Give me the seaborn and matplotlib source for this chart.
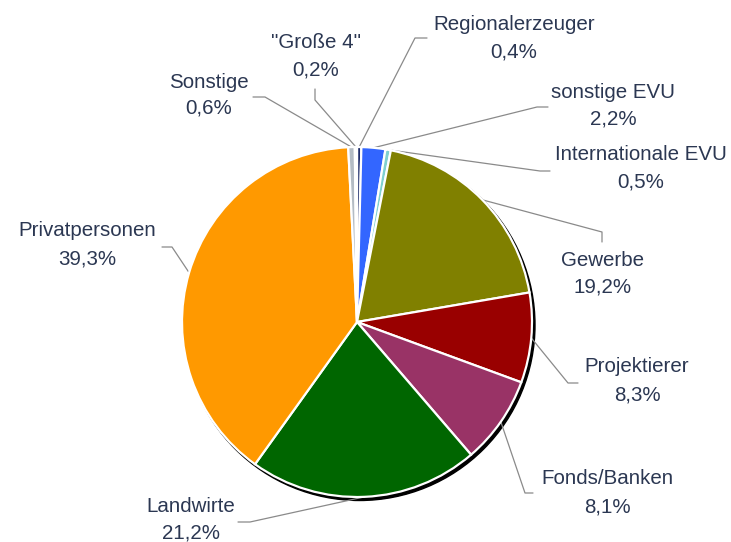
import numpy as np
import matplotlib
matplotlib.use("Agg")
import matplotlib.pyplot as plt
import seaborn as sns
from matplotlib.patches import Circle

# ---- data ----
categories = ["Regionalerzeuger", "sonstige EVU", "Internationale EVU", "Gewerbe",
              "Projektierer", "Fonds/Banken", "Landwirte", "Privatpersonen",
              "Sonstige", "\"Große 4\""]
shares = [0.4, 2.2, 0.5, 19.2, 8.3, 8.1, 21.2, 39.3, 0.6, 0.2]
colors = ["#1f2d6b", "#3366ff", "#7fd0d0", "#808000", "#990000",
          "#993366", "#006600", "#ff9900", "#b4bcc4", "#dbe9f5"]

# label layout in image pixel coords: (x center, y name line, y percent line)
label_pos = [(514, 24, 52), (613, 92, 119), (641, 155, 182), (603, 260, 287),
             (637, 367, 395), (607, 478, 507), (191, 507, 533), (87, 230, 259),
             (209, 82, 108), (316, 43, 70)]
# leader line elbow and end points (image pixel coords)
leader = [((415, 38), (427, 38)), ((537, 107), (548, 107)), ((540, 171), (550, 171)),
          ((602, 232), (602, 242)), ((568, 383), (578, 383)), ((525, 493), (533, 493)),
          ((250, 522), (238, 522)), ((172, 247), (162, 247)), ((265, 97), (253, 97)),
          ((315, 100), (315, 89))]

sns.set_theme(style="white")
plt.rcParams['font.family'] = ['Liberation Sans', 'DejaVu Sans']

W, H = 731, 542
fig = plt.figure(figsize=(W / 100, H / 100), dpi=100)
ax = fig.add_axes([0, 0, 1, 1])

cx, cy, R = 357, H - 322, 175
# shadow
ax.add_patch(Circle((cx + 2.5, cy - 3.0), R + 0.5, color="black", zorder=0))

wedges, _ = ax.pie(shares, colors=colors, startangle=90, counterclock=False,
                   center=(cx, cy), radius=R, frame=False,
                   wedgeprops=dict(edgecolor="white", linewidth=1.6))
for w in wedges:
    w.set_zorder(1)

txt_color = "#2b3752"
fs = 14.8
for w, name, val, (lx, ly1, ly2), (elb, end) in zip(wedges, categories, shares, label_pos, leader):
    mid = np.deg2rad((w.theta1 + w.theta2) / 2)
    ax_pt = (cx + R * np.cos(mid), cy + R * np.sin(mid))
    xs = [ax_pt[0], elb[0], end[0]]
    ys = [ax_pt[1], H - elb[1], H - end[1]]
    ax.plot(xs, ys, color="#8a8a8a", lw=0.9, zorder=0.5)
    ax.text(lx, H - ly1, name, ha="center", va="center", fontsize=fs, color=txt_color)
    ax.text(lx, H - ly2, f"{val:.1f}%".replace(".", ","), ha="center", va="center",
            fontsize=fs, color=txt_color)

ax.set_xlim(0, W)
ax.set_ylim(0, H)
ax.set_aspect("auto")
ax.axis("off")
fig.savefig("out.png", dpi=100, facecolor="white")
